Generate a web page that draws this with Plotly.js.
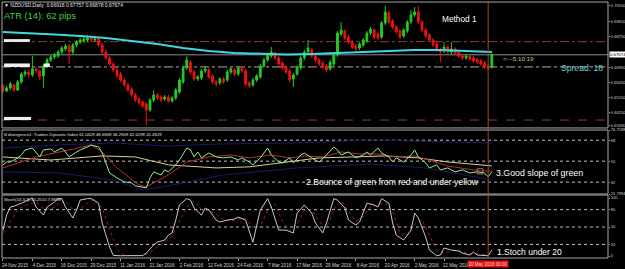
<!DOCTYPE html>
<html><head><meta charset="utf-8">
<script src="https://cdn.plot.ly/plotly-3.0.1.min.js"></script>
<style>html,body{margin:0;padding:0;background:#000;}#chart{width:625px;height:269px;}</style>
</head><body><div id="chart"></div>
<script>
// ---- NZDUSD daily OHLC (bar index 0 = 24 Nov 2015) ----
const openP = [.6584,.6554,.6572,.6590,.6560,.6607,.6654,.6666,.6649,.6684,
.6672,.6643,.6702,.6737,.6755,.6760,.6784,.6802,.6819,.6784,
.6825,.6843,.6849,.6855,.6866,.6855,.6860,.6825,.6784,.6749,
.6713,.6678,.6654,.6619,.6590,.6566,.6531,.6507,.6489,.6478,
.6442,.6501,.6531,.6519,.6507,.6519,.6495,.6513,.6548,.6607,
.6690,.6725,.6666,.6625,.6631,.6672,.6678,.6643,.6607,.6602,
.6625,.6619,.6666,.6678,.6654,.6690,.6672,.6602,.6590,.6619,
.6637,.6702,.6737,.6760,.6778,.6749,.6719,.6696,.6672,.6625,
.6654,.6690,.6749,.6784,.6796,.6760,.6737,.6719,.6702,.6684,
.6713,.6766,.6890,.6908,.6872,.6843,.6819,.6808,.6825,.6849,
.6896,.6914,.6890,.6872,.6955,.7014,.6967,.6931,.6908,.6878,
.6908,.6961,.7002,.7020,.6961,.6914,.6884,.6855,.6831,.6796,
.6790,.6813,.6784,.6802,.6784,.6760,.6749,.6760,.6749,.6737,
.6731,.6719,.6702,.66918];
const highP = [.6596,.6584,.6607,.6596,.6619,.6666,.6678,.6678,.6760,.6696,
.6678,.6713,.6749,.6766,.6778,.6796,.6819,.6831,.6831,.6837,
.6855,.6866,.6872,.6884,.6878,.6872,.6872,.6837,.6796,.6760,
.6725,.6690,.6666,.6631,.6602,.6578,.6543,.6519,.6501,.6489,
.6513,.6560,.6543,.6531,.6531,.6531,.6525,.6572,.6631,.6702,
.6760,.6737,.6678,.6649,.6684,.6702,.6690,.6654,.6619,.6637,
.6637,.6678,.6696,.6690,.6702,.6702,.6684,.6613,.6631,.6654,
.6713,.6749,.6778,.6813,.6790,.6760,.6731,.6707,.6684,.6660,
.6702,.6760,.6796,.6855,.6808,.6772,.6749,.6731,.6713,.6737,
.6778,.6908,.6961,.6919,.6884,.6855,.6831,.6843,.6866,.6908,
.6931,.6925,.6902,.6967,.7055,.7026,.6978,.6943,.6919,.6925,
.6972,.7031,.7049,.7055,.6972,.6925,.6896,.6866,.6843,.6808,
.6843,.6825,.6843,.6813,.6796,.6772,.6772,.6772,.6760,.6749,
.6743,.6731,.6713,.67757];
const lowP = [.6543,.6548,.6560,.6548,.6554,.6596,.6637,.6631,.6637,.6660,
.6619,.6572,.6690,.6725,.6743,.6749,.6772,.6790,.6713,.6772,
.6813,.6831,.6837,.6843,.6843,.6843,.6813,.6772,.6737,.6702,
.6666,.6631,.6607,.6578,.6548,.6519,.6489,.6472,.6454,.6354,
.6431,.6489,.6501,.6489,.6495,.6484,.6484,.6501,.6537,.6596,
.6678,.6654,.6613,.6613,.6619,.6660,.6625,.6596,.6578,.6590,
.6596,.6607,.6654,.6643,.6643,.6660,.6584,.6572,.6578,.6607,
.6625,.6690,.6725,.6749,.6737,.6702,.6678,.6654,.6607,.6578,
.6643,.6678,.6737,.6772,.6749,.6725,.6702,.6684,.6666,.6672,
.6702,.6755,.6878,.6855,.6831,.6802,.6790,.6796,.6813,.6837,
.6884,.6860,.6855,.6860,.6943,.6949,.6919,.6890,.6860,.6866,
.6896,.6949,.6990,.6949,.6902,.6866,.6843,.6813,.6784,.6725,
.6778,.6772,.6772,.6766,.6749,.6737,.6737,.6731,.6719,.6713,
.6702,.6684,.6678,.66878];
const closeP = [.6554,.6572,.6596,.6560,.6607,.6654,.6666,.6649,.6684,.6672,
.6637,.6702,.6737,.6755,.6766,.6784,.6808,.6819,.6784,.6825,
.6843,.6855,.6860,.6866,.6855,.6860,.6825,.6784,.6749,.6713,
.6678,.6643,.6619,.6590,.6560,.6531,.6501,.6484,.6466,.6442,
.6501,.6531,.6513,.6501,.6519,.6495,.6513,.6560,.6619,.6690,
.6737,.6666,.6625,.6637,.6672,.6684,.6637,.6607,.6596,.6625,
.6607,.6666,.6684,.6654,.6690,.6672,.6596,.6584,.6619,.6643,
.6702,.6737,.6766,.6784,.6749,.6713,.6690,.6666,.6619,.6649,
.6690,.6749,.6784,.6808,.6760,.6737,.6713,.6696,.6678,.6725,
.6766,.6896,.6914,.6866,.6843,.6813,.6802,.6831,.6855,.6896,
.6919,.6872,.6866,.6955,.7020,.6961,.6931,.6902,.6872,.6914,
.6961,.7002,.7020,.6961,.6914,.6878,.6855,.6825,.6796,.6784,
.6813,.6784,.6802,.6778,.6760,.6749,.6760,.6743,.6731,.6725,
.6713,.6696,.6690,.67674];

// cyan moving average (sampled)
const maIdx = [0,7,14,21,28,35,42,49,56,63,70,77,84,91,98,105,112,119,126,133];
const maVal = [0.6902,0.6896,0.6887,0.6878,0.6866,0.6849,0.6831,0.6808,0.6790,0.6778,0.6772,0.6769,0.6772,0.6778,0.6784,0.6790,0.6796,0.6796,0.6790,0.6784];

// horizontal levels on price chart
const levelBrownTop = 0.6845;
const levelBid = 0.67674;
const levelLight = 0.6696;
const levelBrownBottom = 0.6383;

// Traders Dynamic Index
const gIdx = [0,1,2,4,5,6,8,9,10,11,13,14,16,17,18,20,21,23,24,26,27,28,29,31,33,35,36,39,40,41,43,44,45,47,48,50,51,52,53,54,55,56,58,60,62,64,65,67,68,70,72,73,75,76,78,79,81,82,84,86,88,90,91,92,94,96,98,99,100,102,103,105,106,107,109,111,112,113,115,116,118,119,121,123,125,127,129,131,132,133];
const gVal = [46.8,49.3,49.3,52.8,55.3,59.6,61.3,57.0,53.6,59.6,60.5,57.9,61.3,57.9,53.6,57.9,59.6,62.2,63.9,62.2,57.0,48.5,39.9,35.6,32.2,31.3,28.8,27.1,35.6,40.8,38.2,42.5,40.8,46.8,51.0,61.3,59.6,53.6,57.9,52.8,55.3,57.0,53.6,52.8,53.6,51.0,52.8,49.3,46.8,52.8,61.3,55.3,49.3,48.5,52.8,48.5,55.3,57.0,52.8,49.3,55.3,62.2,59.6,55.3,57.9,52.8,55.3,57.9,55.3,61.3,57.0,53.6,49.3,52.8,49.3,55.3,59.6,53.6,48.5,44.2,46.8,42.5,44.2,40.8,42.5,39.9,40.8,39.9,36.5,40.8];
const rIdx = [0,9,18,24,27,31,37,39,45,50,56,62,67,73,78,82,87,92,97,102,107,112,116,121,126,130,133];
const rVal = [44.2,53.6,59.6,63.9,57.9,44.2,29.6,27.9,38.2,49.3,53.6,55.3,52.8,55.3,52.8,54.5,53.6,57.9,56.2,56.2,53.6,54.5,51.0,45.9,43.4,41.6,41.5];
const yIdx = [0,13,27,36,45,58,67,76,86,95,104,113,121,127,133];
const yVal = [53.6,51.0,54.5,53.6,46.8,44.2,45.1,48.5,52.8,53.6,54.5,52.8,49.3,47.6,45.9];
const upIdx = [0,15,30,45,60,80,100,115,133];
const upVal = [61.3,63.9,65.6,63.0,64.8,65.6,68.2,67.3,65.6];
const loIdx = [0,15,30,38,45,60,80,100,115,133];
const loVal = [40.8,39.9,33.9,25.3,28.8,38.2,44.2,47.6,44.2,33.9];
const tdiTicks = [76.7598,68,50,32,21.7994];
const tdiTickText = ['76.7598','68','50','32','21.7994'];
const tdiLevels = [68,50,32];

// Stochastic
const kIdx = [0,1,2,3,5,7,8,9,11,12,14,15,16,17,19,20,21,23,24,26,27,29,30,32,35,38,39,41,42,44,45,46,47,48,50,51,52,54,55,56,58,59,61,63,64,66,68,69,70,72,73,75,77,79,80,82,84,85,87,88,90,91,93,94,96,97,99,101,102,103,105,106,107,109,111,112,113,115,116,118,119,120,122,124,125,127,128,129,131,132,133];
const kVal = [44.8,70.7,84.5,86,91,96.5,100,84.5,70.7,84.5,93,99,99,84.5,65.5,79.3,96.5,99,99,91,56.9,15.5,1,0.5,0.5,0.8,5,19,24,27.6,36,39.7,62,88,99,96.5,82.8,70.7,82.8,79.3,62,58.6,62,63.8,67.2,62,24,50,79.3,99,84.5,44.8,44.8,39.7,74,88,74,57,39.7,57,99,96.5,82.8,62,53.4,58.6,91,88,84.5,99,91,57,36,27.6,44.8,74,65.5,32.8,10.3,0.5,1.7,13.8,10.3,8.6,5,1.7,6.9,1.7,0.5,0.5,10.25];
const dIdx = [0,2,4,7,9,11,13,15,17,19,21,23,25,27,29,31,33,38,40,42,44,46,48,50,52,54,56,58,60,62,64,66,68,70,72,74,76,78,80,82,84,86,88,90,92,94,96,98,100,102,104,106,108,110,112,114,116,118,120,122,124,126,128,130,132,133];
const dVal = [40,60,80,90,93,82,80,90,95,80,82,92,98,82,45,12,1,0.5,6,16,24,34,60,85,95,80,78,72,62,60,64,65,50,50,80,90,60,45,55,78,80,60,48,80,95,78,60,68,85,88,92,78,40,35,55,62,35,10,5,9,10,5,4,3,2,7.87];
const stTicks = [100,80,50,20,0];
const stLevels = [80,50,20];

// axes labels
const priceTicks = [0.7055,0.6965,0.6875,0.6695,0.6605,0.6515,0.6425,0.6349];
const dateIdx = [0,8,16,24,32,40,48,56,64,72,80,88,96,104,112,120];
const dateText = ['24 Nov 2015','4 Dec 2015','16 Dec 2015','29 Dec 2015','11 Jan 2016','21 Jan 2016','2 Feb 2016','12 Feb 2016','24 Feb 2016','7 Mar 2016','17 Mar 2016','29 Mar 2016','8 Apr 2016','20 Apr 2016','2 May 2016','12 May 2016'];
const crossIdx = 132;
const crossLabel = '30 May 2016 00:00';

const barIdx = openP.map((_, i) => i);
const F = 'Liberation Sans, Arial, sans-serif';

const traces = [
  {type:'candlestick', x:barIdx, open:openP, high:highP, low:lowP, close:closeP, xaxis:'x', yaxis:'y',
   increasing:{line:{color:'#22cc22',width:1}, fillcolor:'#22cc22'},
   decreasing:{line:{color:'#ee1111',width:1}, fillcolor:'#ee1111'}, whiskerwidth:0, hoverinfo:'skip'},
  {type:'scatter', mode:'lines', x:maIdx, y:maVal, xaxis:'x', yaxis:'y', line:{color:'#40d8e0',width:2}, hoverinfo:'skip'},
  {type:'scatter', mode:'lines', x:upIdx, y:upVal, xaxis:'x', yaxis:'y2', line:{color:'#1a1a66',width:1}, hoverinfo:'skip'},
  {type:'scatter', mode:'lines', x:loIdx, y:loVal, xaxis:'x', yaxis:'y2', line:{color:'#1a1a66',width:1}, hoverinfo:'skip'},
  {type:'scatter', mode:'lines', x:yIdx, y:yVal, xaxis:'x', yaxis:'y2', line:{color:'#d8d0a0',width:1}, hoverinfo:'skip'},
  {type:'scatter', mode:'lines', x:rIdx, y:rVal, xaxis:'x', yaxis:'y2', line:{color:'#b83030',width:1}, hoverinfo:'skip'},
  {type:'scatter', mode:'lines', x:gIdx, y:gVal, xaxis:'x', yaxis:'y2', line:{color:'#90f090',width:1}, hoverinfo:'skip'},
  {type:'scatter', mode:'lines', x:dIdx, y:dVal, xaxis:'x', yaxis:'y3', line:{color:'#a02020',width:1,dash:'dot'}, hoverinfo:'skip'},
  {type:'scatter', mode:'lines', x:kIdx, y:kVal, xaxis:'x', yaxis:'y3', line:{color:'#c8c8c8',width:1}, hoverinfo:'skip'}
];

function hline(y, yref, color, dash, w){
  return {type:'line', xref:'paper', x0:0, x1:1, yref:yref, y0:y, y1:y, line:{color:color, width:w||1, dash:dash}, layer:'below'};
}
const shapes = [
  hline(levelBrownTop,'y','#8a4030','dashdot'),
  hline(levelBid,'y','#8a8a8a','solid'),
  hline(levelLight,'y','#b0a8a0','dashdot'),
  hline(levelBrownBottom,'y','#8a4030','dash'),
];
tdiLevels.forEach(v => shapes.push(hline(v,'y2','#c0c0c0','dot')));
stLevels.forEach(v => shapes.push(hline(v,'y3','#c0c0c0','dot')));
// panel frames
[[0.508,1],[0.25,0.5],[0,0.246]].forEach(d => shapes.push({type:'rect', xref:'paper', yref:'paper', x0:0, x1:1, y0:d[0], y1:d[1], line:{color:'#a8a8a8',width:1}, fillcolor:'rgba(0,0,0,0)'}));
// vertical time cursor
shapes.push({type:'line', xref:'x', x0:crossIdx, x1:crossIdx, yref:'paper', y0:0, y1:1, line:{color:'#a04a3a', width:1}});
// white object labels at left
[[0.0033,0.046,0.844,0.855],[0.0033,0.046,0.746,0.760],[0.069,0.079,0.746,0.760],[0.0033,0.048,0.539,0.551]].forEach(r =>
  shapes.push({type:'rect', xref:'paper', yref:'paper', x0:r[0], x1:r[1], y0:r[2], y1:r[3], line:{width:0}, fillcolor:'#f0f0f0'}));
// small marker box in TDI
shapes.push({type:'rect', xref:'x', yref:'y2', x0:129, x1:130.6, y0:39, y1:43.5, line:{color:'#b07080',width:1}, fillcolor:'rgba(0,0,0,0)'});

function ann(text, x, y, size, color, extra){
  return Object.assign({text:text, xref:'paper', yref:'paper', x:x, y:y, xanchor:'left', yanchor:'middle', showarrow:false,
    font:{family:F, size:size, color:color}, borderpad:0}, extra||{});
}
const annotations = [
  ann('▼ NZDUSD,Daily  0.66918 0.67757 0.66878 0.67674', 0.002, 0.990, 5, '#e0e0e0'),
  ann('ATR (14): 62 pips', 0.002, 0.945, 9.3, '#44cc44'),
  ann('Method 1', 0.724, 0.932, 8.3, '#ffffff'),
  ann('<---5:10:19', 0.825, 0.781, 6.2, '#c8c890'),
  ann('Spread: 18', 0.921, 0.744, 8.6, '#70d0d0'),
  ann('lil divergence1: Traders Dynamic Index 61.0429 48.6969 36.2909 42.6298 41.4829', 0.002, 0.484, 4.3, '#e0e0e0'),
  ann('2.Bounce of green from red and under yellow', 0.5, 0.297, 8.6, '#ffffff'),
  ann('3.Good slope of green', 0.813, 0.332, 8.8, '#ffffff'),
  ann('Stoch(14,3,3) 10.2510 7.8698', 0.002, 0.230, 4.3, '#e0e0e0'),
  ann('1.Stoch under 20', 0.816, 0.0234, 8.5, '#ffffff'),
  {text:levelBid.toFixed(5), xref:'paper', yref:'y', x:1, y:levelBid, xanchor:'left', yanchor:'middle', xshift:1, showarrow:false,
    bgcolor:'#ffffff', font:{family:F, size:4.3, color:'#000'}, borderpad:0},
  {text:crossLabel, xref:'x', yref:'paper', x:crossIdx, y:0, xanchor:'center', yanchor:'top', yshift:-2, showarrow:false,
    bgcolor:'#e01010', font:{family:F, size:4.5, color:'#ffd0d0'}, borderpad:0.5}
];

const axY = {side:'right', showgrid:false, zeroline:false, ticks:'outside', ticklen:1, tickcolor:'#a8a8a8',
  tickfont:{family:F, size:4.1, color:'#d0d0d0'}, fixedrange:true, showline:false, ticklabelstandoff:0};

const layout = {
  width:625, height:269, paper_bgcolor:'#000', plot_bgcolor:'#000',
  margin:{l:2, r:17, t:2, b:11}, showlegend:false, dragmode:false,
  xaxis:{domain:[0,1], anchor:'y3', range:[-0.27,164.6], rangeslider:{visible:false}, showgrid:false, zeroline:false,
    tickvals:dateIdx, ticktext:dateText, tickangle:0, ticks:'outside', ticklen:2, tickcolor:'#a8a8a8', ticklabelshift:12,
    tickfont:{family:F, size:4.6, color:'#d0d0d0'}, showline:false, automargin:false},
  yaxis:Object.assign({}, axY, {domain:[0.508,1], range:[0.63364,0.70785], tickvals:priceTicks, ticktext:priceTicks.map(v=>v.toFixed(5)), anchor:'x'}),
  yaxis2:Object.assign({}, axY, {domain:[0.25,0.5], range:[21.7994,76.7598], tickvals:tdiTicks, ticktext:tdiTickText, anchor:'x'}),
  yaxis3:Object.assign({}, axY, {domain:[0,0.246], range:[-3.4,105.2], tickvals:stTicks, anchor:'x'}),
  shapes:shapes, annotations:annotations
};
Plotly.newPlot('chart', traces, layout, {displayModeBar:false, staticPlot:true});
</script></body></html>
